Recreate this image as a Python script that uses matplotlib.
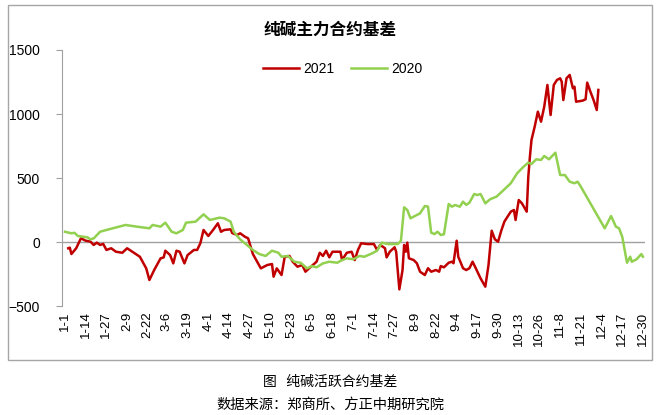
import matplotlib
matplotlib.use("Agg")
import matplotlib.pyplot as plt
from matplotlib.patches import Rectangle
import pandas as pd

plt.rcParams['font.family'] = ['Liberation Sans', 'Noto Sans CJK SC', 'DejaVu Sans']

# ---------------------------------------------------------
# Datos (fecha m-d, base en yuanes/t)
# ---------------------------------------------------------
fechas_2021 = [
    "1-3", "1-4", "1-5", "1-8", "1-11", "1-14", "1-17", "1-19", "1-21", "1-23",
    "1-25", "1-27", "1-30", "2-2", "2-6", "2-9", "2-17", "2-21", "2-23", "2-26",
    "3-2", "3-4", "3-5", "3-8", "3-10", "3-12", "3-14", "3-17", "3-19", "3-23",
    "3-25", "3-27", "3-29", "4-1", "4-4", "4-7", "4-9", "4-11", "4-15", "4-16",
    "4-19", "4-21", "4-24", "4-26", "4-29", "5-4", "5-8", "5-11", "5-12", "5-14",
    "5-17", "5-19", "5-22", "5-24", "5-27", "5-30", "6-1", "6-4", "6-8", "6-10",
    "6-12", "6-14", "6-16", "6-18", "6-23", "6-24", "6-27", "6-30", "7-2", "7-4",
    "7-6", "7-10", "7-14", "7-16", "7-18", "7-21", "7-22", "7-24", "7-27", "7-28",
    "7-30", "8-1", "8-2", "8-3", "8-4", "8-5", "8-8", "8-10", "8-12", "8-15",
    "8-17", "8-19", "8-22", "8-24", "8-25", "8-27", "8-30", "9-1", "9-2", "9-4",
    "9-5", "9-8", "9-10", "9-12", "9-14", "9-16", "9-19", "9-22", "9-24", "9-26",
    "9-28", "9-30", "10-2", "10-4", "10-8", "10-10", "10-11", "10-13", "10-15", "10-18",
    "10-19", "10-20", "10-21", "10-23", "10-25", "10-27", "10-29", "10-31", "11-2", "11-4",
    "11-6", "11-8", "11-9", "11-10", "11-12", "11-14", "11-16", "11-17", "11-18", "11-22",
    "11-24", "11-25", "11-27", "11-29", "12-1", "12-2",
]
base_2021 = [
    -49, -44, -94, -49, 29, 10, 3, -23, -5, -23,
    -15, -62, -49, -76, -84, -49, -115, -206, -297, -219,
    -128, -120, -68, -102, -167, -68, -76, -167, -102, -62,
    -62, -10, 94, 47, 94, 146, 80, 94, 99, 70,
    55, 68, 41, 29, -94, -206, -180, -172, -271, -206,
    -258, -115, -109, -154, -193, -180, -232, -198, -154, -84,
    -109, -68, -120, -76, -76, -141, -84, -76, -141, -62,
    -10, -16, -16, -62, -23, -49, -120, -76, -41, -76,
    -370, -219, -23, -76, -5, -127, -141, -166, -232, -258,
    -205, -232, -219, -232, -188, -198, -162, -154, -166, 10,
    -115, -205, -219, -205, -154, -205, -284, -349, -180, 88,
    21, 2, 88, 160, 237, 250, 172, 328, 302, 237,
    510, 666, 797, 901, 1018, 940, 1057, 1227, 992, 1227,
    1266, 1279, 1252, 1109, 1279, 1305, 1201, 1213, 1096, 1104,
    1115, 1245, 1174, 1109, 1031, 1188,
]

fechas_2020 = [
    "1-1", "1-5", "1-7", "1-9", "1-15", "1-17", "1-19", "1-23", "1-27", "2-8",
    "2-15", "2-23", "2-25", "3-2", "3-5", "3-9", "3-12", "3-16", "3-18", "3-24",
    "3-29", "4-2", "4-8", "4-11", "4-15", "4-17", "4-21", "4-24", "4-29", "5-3",
    "5-7", "5-11", "5-15", "5-17", "5-21", "5-25", "5-29", "6-2", "6-5", "6-8",
    "6-12", "6-16", "6-21", "6-24", "6-27", "7-1", "7-5", "7-8", "7-13", "7-16",
    "7-19", "7-23", "7-29", "7-31", "8-2", "8-4", "8-6", "8-10", "8-12", "8-15",
    "8-17", "8-19", "8-21", "8-23", "8-25", "8-27", "8-30", "9-1", "9-3", "9-6",
    "9-8", "9-10", "9-12", "9-15", "9-17", "9-19", "9-22", "9-25", "9-29", "10-3",
    "10-8", "10-12", "10-16", "10-19", "10-21", "10-24", "10-27", "10-29", "11-1", "11-5",
    "11-8", "11-11", "11-14", "11-17", "11-19", "11-21", "11-27", "12-3", "12-6", "12-10",
    "12-13", "12-15", "12-17", "12-20", "12-22", "12-23", "12-26", "12-29", "12-30",
]
base_2020 = [
    80, 68, 72, 47, 37, 21, 28, 80, 94, 133,
    120, 107, 133, 120, 151, 80, 68, 94, 151, 159,
    216, 172, 190, 185, 159, 80, 20, -10, -62, -94,
    -109, -68, -84, -115, -109, -154, -162, -206, -188, -198,
    -167, -154, -162, -141, -128, -135, -109, -115, -88, -68,
    -5, -16, -16, 10, 271, 250, 185, 211, 224, 281,
    276, 73, 62, 80, 55, 60, 297, 276, 289, 276,
    315, 290, 307, 375, 367, 375, 302, 334, 354, 400,
    459, 537, 588, 620, 609, 646, 641, 672, 646, 698,
    523, 523, 471, 459, 471, 432, 302, 172, 107, 203,
    120, 107, 41, -162, -115, -154, -135, -94, -115,
]

etiquetas_x = [
    "1-1", "1-14", "1-27", "2-9", "2-22", "3-6", "3-19", "4-1", "4-14", "4-27",
    "5-10", "5-23", "6-5", "6-18", "7-1", "7-14", "7-27", "8-9", "8-22", "9-4",
    "9-17", "9-30", "10-13", "10-26", "11-8", "11-21", "12-4", "12-17", "12-30",
]


def dia_del_anio(fechas):
    """Convierte 'm-d' en la posición del día (1-1 = 0) sobre un año de 365 días."""
    f = pd.to_datetime(["2021-" + s for s in fechas], format="%Y-%m-%d")
    return (f.dayofyear - 1).tolist()


# ---------------------------------------------------------
# Figura
# ---------------------------------------------------------
fig = plt.figure(figsize=(6.61, 4.15), dpi=100)

# marco gris del área del gráfico
fig.patches.append(Rectangle((8 / 661, 1 - 360 / 415), 644 / 661, 355 / 415,
                             transform=fig.transFigure, fill=False,
                             edgecolor="#A6A6A6", linewidth=1.0))

ax = fig.add_axes([62 / 661, 1 - 306 / 415, 583 / 661, 256 / 415])

ax.plot(dia_del_anio(fechas_2021), base_2021, color="#C00000", lw=1.8, label="2021")
ax.plot(dia_del_anio(fechas_2020), base_2020, color="#92D050", lw=1.8, label="2020")

ax.axhline(0, color="#A0A0A0", lw=1.0, zorder=0)

ax.set_xlim(-1.9, 364.3)
ax.set_ylim(-500, 1500)
ax.set_yticks([-500, 0, 500, 1000, 1500])
ax.set_xticks(dia_del_anio(etiquetas_x))
ax.set_xticklabels(etiquetas_x, rotation=90, fontsize=9.5)
ax.tick_params(axis="x", length=0, pad=4)
ax.tick_params(axis="y", length=4, color="#A0A0A0", labelsize=10, pad=12)
for lbl in ax.get_yticklabels():
    lbl.set_horizontalalignment("right")

for s in ["top", "right", "bottom"]:
    ax.spines[s].set_visible(False)
ax.spines["left"].set_color("#A0A0A0")

ax.legend(loc="center", bbox_to_anchor=(0.482, 0.926), ncol=2, frameon=False,
          fontsize=10, handlelength=2.6, columnspacing=1.2, handletextpad=0.3)

fig.text(0.5, 1 - 30 / 415, "纯碱主力合约基差", ha="center", va="center",
         fontsize=12, fontweight="bold", family=["Noto Sans CJK SC", "DejaVu Sans"])

fig.text(0.5, 1 - 382 / 415, "图   纯碱活跃合约基差", ha="center", va="center",
         fontsize=10, family=["Noto Sans CJK SC", "DejaVu Sans"])
fig.text(0.5, 1 - 405 / 415, "数据来源：郑商所、方正中期研究院", ha="center", va="center",
         fontsize=10.3, family=["Noto Sans CJK SC", "DejaVu Sans"])

fig.savefig("out.png", dpi=100)
